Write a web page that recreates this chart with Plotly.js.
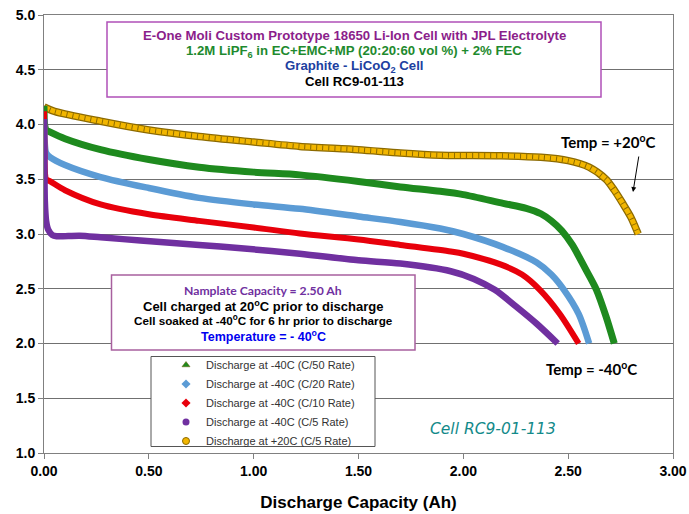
<!DOCTYPE html>
<html><head><meta charset="utf-8">
<script src="https://cdn.plot.ly/plotly-3.0.1.min.js"></script>
<style>html,body{margin:0;padding:0;background:#fff}#chart{width:689px;height:514px}</style>
</head><body><div id="chart"></div>
<script>
// Discharge at -40C (C/50 Rate)
const c50X = [0, 0.003, 0.01, 0.03, 0.1, 0.27, 0.5, 0.74, 1.0, 1.22, 1.5, 1.7, 1.89, 2.0, 2.19, 2.30, 2.37, 2.42, 2.47, 2.52, 2.58, 2.635, 2.68, 2.72];
const c50Y = [4.17, 4.0, 3.95, 3.93, 3.87, 3.77, 3.68, 3.61, 3.565, 3.54, 3.48, 3.43, 3.39, 3.36, 3.28, 3.235, 3.185, 3.12, 3.03, 2.90, 2.69, 2.49, 2.25, 2.0];
// Discharge at -40C (C/20 Rate)
const c20X = [0, 0.003, 0.01, 0.03, 0.1, 0.27, 0.5, 0.74, 1.0, 1.22, 1.5, 1.7, 1.89, 2.0, 2.19, 2.35, 2.42, 2.48, 2.55, 2.60];
const c20Y = [4.07, 3.85, 3.74, 3.70, 3.63, 3.52, 3.42, 3.33, 3.27, 3.23, 3.16, 3.11, 3.05, 3.00, 2.88, 2.74, 2.63, 2.49, 2.27, 2.0];
// Discharge at -40C (C/10 Rate)
const c10X = [0, 0.002, 0.005, 0.01, 0.03, 0.1, 0.27, 0.5, 0.74, 1.0, 1.22, 1.5, 1.7, 1.94, 2.0, 2.18, 2.28, 2.365, 2.46, 2.55];
const c10Y = [4.12, 3.8, 3.55, 3.50, 3.48, 3.40, 3.27, 3.18, 3.12, 3.06, 3.005, 2.95, 2.90, 2.84, 2.82, 2.72, 2.63, 2.49, 2.27, 2.0];
// Discharge at -40C (C/5 Rate)
const c5X = [0, 0.002, 0.004, 0.01, 0.02, 0.04, 0.06, 0.17, 0.27, 0.46, 0.74, 0.94, 1.22, 1.5, 1.7, 1.94, 2.05, 2.15, 2.25, 2.35, 2.45];
const c5Y = [4.05, 3.6, 3.3, 3.12, 3.04, 2.99, 2.98, 2.985, 2.97, 2.94, 2.90, 2.87, 2.82, 2.76, 2.73, 2.66, 2.59, 2.49, 2.34, 2.18, 2.0];
// Discharge at +20C (C/5 Rate)
const w5X = [0, 0.05, 0.27, 0.5, 0.74, 1.0, 1.22, 1.5, 1.7, 1.89, 2.18, 2.37, 2.5, 2.6, 2.68, 2.72, 2.76, 2.8, 2.834];
const w5Y = [4.16, 4.12, 4.03, 3.95, 3.89, 3.84, 3.80, 3.77, 3.74, 3.72, 3.715, 3.70, 3.67, 3.61, 3.50, 3.40, 3.28, 3.15, 3.0];

const seriesNames = ['Discharge at -40C (C/50 Rate)', 'Discharge at -40C (C/20 Rate)', 'Discharge at -40C (C/10 Rate)', 'Discharge at -40C (C/5 Rate)', 'Discharge at +20C (C/5 Rate)'];
const xTicks = [0, 0.5, 1.0, 1.5, 2.0, 2.5, 3.0];
const yTicks = [1.0, 1.5, 2.0, 2.5, 3.0, 3.5, 4.0, 4.5, 5.0];

const GREEN = '#1E8A1E', BLUE = '#5B9BD5', RED = '#E8000B', PURPLE = '#7030A0', GOLD = '#F2B600', GOLDDARK = '#8C6A00';

function curve(x, y, color, w, dash) {
  return {x: x, y: y, type: 'scatter', mode: 'lines', line: {color: color, width: w, shape: 'spline', smoothing: 0.8, dash: dash || 'solid'}, showlegend: false, hoverinfo: 'skip'};
}
const data = [
  curve(w5X, w5Y, GOLDDARK, 7.5),
  curve(w5X, w5Y, GOLD, 5),
  curve(w5X, w5Y, GOLDDARK, 5, '1px,5px'),
  curve(c50X, c50Y, GREEN, 7),
  curve(c20X, c20Y, BLUE, 6.5),
  curve(c10X, c10Y, RED, 6),
  curve(c5X, c5Y, PURPLE, 6.5),
];
const legMarkers = [
  {symbol: 'triangle-up', color: GREEN, size: 7, line: {color: '#6a5a00', width: 0.5}},
  {symbol: 'diamond', color: BLUE, size: 7, line: {width: 0}},
  {symbol: 'diamond', color: RED, size: 7, line: {width: 0}},
  {symbol: 'circle', color: PURPLE, size: 7, line: {width: 0}},
  {symbol: 'circle', color: GOLD, size: 7, line: {color: GOLDDARK, width: 1}},
];
seriesNames.forEach((n, i) => data.push({x: [null], y: [null], type: 'scatter', mode: 'markers', name: n, marker: legMarkers[i]}));

const L = 44, R = 673, T = 15, B = 453;
const px = v => (v - L) / (R - L);
const py = v => (B - v) / (B - T);

const AR = 'Liberation Sans, Arial, sans-serif';
const CAL = 'Lato, Carlito, Calibri, sans-serif';
function txt(text, x, y, size, color, family) {
  return {text: text, xref: 'paper', yref: 'paper', x: px(x), y: py(y), xanchor: 'center', yanchor: 'middle', showarrow: false,
    font: {family: family || AR, size: size, color: color, weight: 'bold'}};
}
const annotations = [
  txt('E-One Moli Custom Prototype 18650 Li-Ion Cell with JPL Electrolyte', 354, 35, 13.2, '#8B1E8B'),
  txt('1.2M LiPF<sub>6</sub> in EC+EMC+MP (20:20:60 vol %) + 2% FEC', 354, 51.5, 13.2, '#1E8A2E'),
  txt('Graphite - LiCoO<sub>2</sub> Cell', 354, 66.5, 13.2, '#2040A0'),
  txt('Cell RC9-01-113', 354, 81, 13.2, '#000000'),
  txt('Namplate Capacity = 2.50 Ah', 263, 290.5, 12.2, '#7030A0', CAL),
  txt('Cell charged at 20<sup>o</sup>C prior to discharge', 263, 305.5, 13, '#000000'),
  txt('Cell soaked at -40<sup>o</sup>C for 6 hr prior to discharge', 263, 320, 11.7, '#000000'),
  txt('Temperature = - 40<sup>o</sup>C', 263, 335.5, 12.5, '#0000F0'),
  txt('Temp = +20<sup>o</sup>C', 608, 141.5, 15, '#000000', CAL),
  txt('Temp = -40<sup>o</sup>C', 591.5, 368.5, 15, '#000000', CAL),
  {text: 'Cell RC9-01-113', xref: 'paper', yref: 'paper', x: px(493), y: py(428.5), xanchor: 'center', yanchor: 'middle', showarrow: false,
    font: {family: 'Comic Sans MS, DejaVu Sans, sans-serif', size: 15.5, color: '#138A8A', style: 'italic', weight: 'normal'}},
  {text: '', xref: 'paper', yref: 'paper', x: px(633), y: py(192), ax: 6, ay: -37, showarrow: true, arrowhead: 2, arrowsize: 1, arrowwidth: 1, arrowcolor: '#000'}
];

const shapes = [
  {type: 'rect', xref: 'paper', yref: 'paper', x0: px(107), x1: px(601), y0: py(97), y1: py(22), line: {color: '#B050B8', width: 1.5}, fillcolor: '#FFFFFF', layer: 'above'},
  {type: 'rect', xref: 'paper', yref: 'paper', x0: px(111.5), x1: px(415), y0: py(350), y1: py(275), line: {color: '#A8609E', width: 1.5}, fillcolor: '#FFFFFF', layer: 'above'},
  {type: 'rect', xref: 'paper', yref: 'paper', x0: px(151), x1: px(375), y0: py(446.5), y1: py(356.5), line: {color: '#555555', width: 1}, fillcolor: '#FFFFFF', layer: 'above'},
];

const layout = {
  width: 689, height: 514,
  margin: {l: L, r: 689 - R, t: T, b: 514 - B},
  paper_bgcolor: '#FFFFFF', plot_bgcolor: '#FFFFFF',
  showlegend: true,
  legend: {x: px(166), y: py(350.5), xanchor: 'left', yanchor: 'top', bgcolor: 'rgba(0,0,0,0)', borderwidth: 0,
    font: {family: AR, size: 11, color: '#333333'}},
  xaxis: {range: [0, 3], tickvals: xTicks, tickformat: '.2f', ticks: 'outside', ticklen: 5, tickcolor: '#808080',
    showline: true, linecolor: '#808080', linewidth: 1, mirror: true, showgrid: false, zeroline: false,
    tickfont: {family: AR, size: 14, color: '#000', weight: 'bold'},
    title: {text: 'Discharge Capacity (Ah)', font: {family: AR, size: 17, color: '#000', weight: 'bold'}, standoff: 18}},
  yaxis: {range: [1, 5], tickvals: yTicks, tickformat: '.1f', ticks: 'outside', ticklen: 5, tickcolor: '#808080',
    showline: true, linecolor: '#808080', linewidth: 1, mirror: true, showgrid: true, gridcolor: '#707070', gridwidth: 1, zeroline: false,
    tickfont: {family: AR, size: 14, color: '#000', weight: 'bold'}},
  annotations: annotations,
  shapes: shapes,
};
Plotly.newPlot('chart', data, layout, {displayModeBar: false, staticPlot: true});
</script></body></html>
